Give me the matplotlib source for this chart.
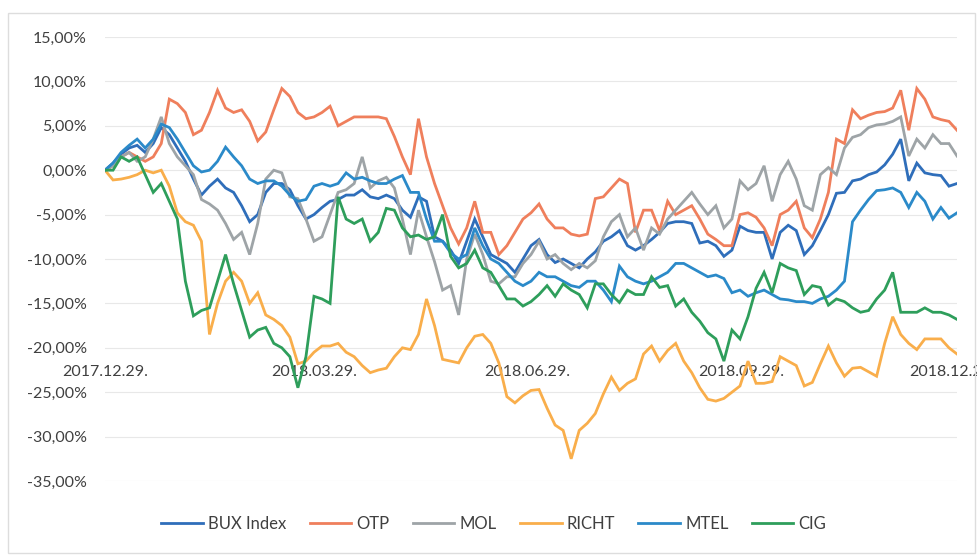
import matplotlib.pyplot as plt
import matplotlib.dates as mdates
from matplotlib.ticker import FuncFormatter
from matplotlib.patches import Rectangle
import pandas as pd

# daily returns vs. 2017.12.29, in percent
bux = [0, 0.8, 1.8, 2.5, 2.8, 2.0, 3.0, 4.8, 4.0, 2.5,
       1.0, -1.0, -2.8, -1.8, -1.0, -2.0, -2.5, -4.0, -5.8, -5.0,
       -2.5, -1.5, -1.5, -2.2, -4.0, -5.5, -5.0, -4.2, -3.5, -3.3,
       -2.8, -2.8, -2.2, -3.0, -3.2, -2.8, -3.2, -4.5, -5.3, -3.0,
       -3.5, -7.5, -8.0, -9.0, -10.5, -8.0, -5.5, -7.5, -9.5, -10.0,
       -10.5, -11.5, -10.0, -8.5, -7.8, -9.5, -10.4, -10.0, -10.5, -11.0,
       -10.0, -9.2, -8.0, -7.5, -6.8, -8.5, -9.0, -8.5, -7.8, -7.0,
       -6.0, -5.8, -5.8, -6.0, -8.2, -8.0, -8.5, -9.7, -9.0, -6.3,
       -6.8, -7.0, -7.0, -10.0, -7.0, -6.2, -6.8, -9.5, -8.5, -6.8,
       -5.0, -2.6, -2.5, -1.2, -1.0, -0.5, -0.2, 0.6, 1.8, 3.5,
       -1.2, 0.8, -0.3, -0.5, -0.6, -1.8, -1.5]
otp = [0, 0.5, 1.5, 2.0, 1.5, 1.0, 1.5, 3.0, 8.0, 7.5,
       6.5, 4.0, 4.5, 6.5, 9.0, 7.0, 6.5, 6.8, 5.5, 3.3,
       4.3, 6.8, 9.2, 8.3, 6.5, 5.8, 6.0, 6.5, 7.2, 5.0,
       5.5, 6.0, 6.0, 6.0, 6.0, 5.8, 3.8, 1.5, -0.5, 5.8,
       1.5, -1.5, -4.0, -6.5, -8.3, -6.5, -3.5, -7.0, -7.0, -9.5,
       -8.5, -7.0, -5.5, -4.8, -3.8, -5.5, -6.5, -6.5, -7.2, -7.4,
       -7.2, -3.2, -3.0, -2.0, -1.0, -1.5, -7.0, -4.5, -4.5, -6.8,
       -3.5, -5.0, -4.5, -4.0, -5.5, -7.2, -7.8, -8.5, -8.5, -5.0,
       -4.8, -5.3, -6.5, -8.5, -5.0, -4.5, -3.5, -6.5, -7.6, -5.5,
       -2.5, 3.5, 3.0, 6.8, 5.8, 6.2, 6.5, 6.6, 7.0, 9.0,
       4.5, 9.2, 8.0, 6.0, 5.7, 5.5, 4.5]
mol = [0, 0.5, 1.5, 2.0, 1.0, 1.5, 3.5, 6.0, 3.0, 1.5,
       0.5, -0.5, -3.3, -3.8, -4.5, -6.0, -7.8, -7.0, -9.5, -6.0,
       -1.0, 0.0, -0.3, -3.0, -3.2, -5.5, -8.0, -7.5, -5.0, -2.5,
       -2.2, -1.5, 1.5, -2.0, -1.2, -0.8, -2.0, -5.5, -9.5, -4.5,
       -7.5, -10.3, -13.5, -13.0, -16.3, -10.0, -7.2, -9.5, -12.5, -12.8,
       -12.0, -12.0, -10.5, -9.5, -8.0, -10.0, -9.5, -10.5, -11.2, -10.5,
       -11.0, -10.2, -7.5, -5.8, -5.0, -7.5, -6.5, -9.0, -6.5, -7.2,
       -5.5, -4.5, -3.5, -2.5, -3.8, -5.0, -4.0, -6.5, -5.5, -1.2,
       -2.2, -1.5, 0.5, -3.5, -0.5, 1.0, -1.0, -4.0, -4.5, -0.5,
       0.3, -0.5, 2.5, 3.7, 4.0, 4.8, 5.1, 5.2, 5.5, 6.0,
       1.6, 3.5, 2.5, 4.0, 3.0, 3.0, 1.6]
richt = [0, -1.1, -1.0, -0.8, -0.5, 0.0, -0.3, 0.0, -1.8, -4.8,
         -5.8, -6.2, -8.0, -18.5, -15.0, -12.5, -11.5, -12.5, -15.0, -13.8,
         -16.3, -16.8, -17.5, -18.8, -21.8, -21.5, -20.5, -19.8, -19.8, -19.5,
         -20.5, -21.0, -22.0, -22.8, -22.5, -22.3, -21.0, -20.0, -20.2, -18.5,
         -14.5, -17.5, -21.3, -21.5, -21.7, -20.0, -18.7, -18.5, -19.5, -21.7,
         -25.5, -26.2, -25.4, -24.8, -24.7, -26.8, -28.7, -29.3, -32.5, -29.3,
         -28.5, -27.4, -25.2, -23.3, -24.8, -24.0, -23.5, -20.7, -19.8, -21.5,
         -20.3, -19.5, -21.5, -22.8, -24.5, -25.8, -26.0, -25.7, -25.0, -24.3,
         -21.5, -24.0, -24.0, -23.8, -21.0, -21.5, -22.0, -24.3, -23.9, -21.8,
         -19.8, -21.7, -23.2, -22.3, -22.2, -22.7, -23.2, -19.5, -16.5, -18.5,
         -19.5, -20.2, -19.0, -19.0, -19.0, -20.0, -20.7]
mtel = [0, 0.8, 2.0, 2.8, 3.5, 2.5, 3.5, 5.2, 4.8, 3.5,
        2.0, 0.5, -0.2, 0.0, 1.0, 2.6, 1.5, 0.5, -1.0, -1.5,
        -1.2, -1.2, -1.8, -2.8, -3.5, -3.3, -1.8, -1.5, -1.8, -1.5,
        -0.3, -1.0, -0.8, -1.2, -1.5, -1.5, -1.0, -0.6, -2.5, -2.5,
        -5.5, -8.0, -8.0, -9.3, -10.0, -9.5, -6.5, -8.5, -10.0, -10.5,
        -11.5, -12.5, -13.0, -12.5, -11.5, -12.0, -12.0, -12.5, -13.0, -13.2,
        -12.5, -12.5, -13.5, -14.8, -10.8, -12.0, -12.5, -12.8, -12.5, -12.0,
        -11.5, -10.5, -10.5, -11.0, -11.5, -12.0, -11.8, -12.2, -13.8, -13.5,
        -14.2, -13.8, -13.5, -14.0, -14.5, -14.6, -14.8, -14.8, -15.0, -14.5,
        -14.2, -13.5, -12.5, -5.8, -4.5, -3.3, -2.3, -2.2, -2.0, -2.5,
        -4.2, -2.5, -3.5, -5.5, -4.2, -5.4, -4.8]
cig = [0, 0.0, 1.5, 1.0, 1.5, -0.5, -2.5, -1.5, -3.5, -5.5,
       -12.5, -16.4, -15.8, -15.5, -12.5, -9.5, -12.8, -15.8, -18.8, -18.0,
       -17.7, -19.5, -20.0, -21.0, -24.5, -21.0, -14.2, -14.5, -15.0, -3.0,
       -5.5, -6.0, -5.5, -8.0, -7.0, -4.3, -4.5, -6.5, -7.5, -7.3,
       -7.8, -7.5, -5.0, -9.7, -11.0, -10.5, -9.0, -11.0, -11.5, -13.0,
       -14.5, -14.5, -15.3, -14.8, -14.0, -13.0, -14.2, -12.8, -13.5, -14.0,
       -15.5, -12.8, -12.8, -14.0, -14.9, -13.5, -14.0, -14.0, -12.0, -13.2,
       -13.0, -15.3, -14.5, -16.0, -17.0, -18.3, -19.0, -21.5, -18.0, -19.0,
       -16.5, -13.3, -11.5, -13.8, -10.5, -11.0, -11.3, -14.0, -13.0, -13.2,
       -15.2, -14.5, -14.8, -15.5, -16.0, -15.8, -14.5, -13.5, -11.5, -16.0,
       -16.0, -16.0, -15.5, -16.0, -16.0, -16.3, -16.8]

names = ['BUX Index', 'OTP', 'MOL', 'RICHT', 'MTEL', 'CIG']
colors = ['#2F6EBA', '#EF7F5C', '#9EA4A7', '#F9AE4B', '#2B8AC9', '#2E9E5B']
tick_dates = ['2017-12-29', '2018-03-29', '2018-06-29', '2018-09-29', '2018-12-29']

dates = pd.date_range('2017-12-29', '2018-12-31', periods=len(bux))

plt.rcParams['font.family'] = ['Lato', 'DejaVu Sans']
fig = plt.figure(figsize=(9.78, 5.56), dpi=100)
ax = fig.add_axes([105 / 978, 1 - 481 / 556, (957 - 105) / 978, (481 - 37) / 556])

for vals, name, c in zip([bux, otp, mol, richt, mtel, cig], names, colors):
    ax.plot(dates, vals, color=c, lw=2.0, label=name, solid_joinstyle='miter')

ax.set_xlim(dates[0], dates[-1])
ax.set_ylim(-35, 15)
ax.set_yticks(range(-35, 16, 5))
ax.yaxis.set_major_formatter(FuncFormatter(lambda v, p: f'{v:.2f}%'.replace('.', ',')))
ax.grid(axis='y', color='#E8E8E8', lw=0.8)
ax.set_axisbelow(True)

ax.set_xticks(pd.to_datetime(tick_dates))
ax.xaxis.set_major_formatter(mdates.DateFormatter('%Y.%m.%d.'))
ax.spines['bottom'].set_position(('data', -21.6))
for s in ax.spines.values():
    s.set_visible(False)
ax.tick_params(axis='x', length=0, pad=2, labelsize=11.5, labelcolor='#404040')
ax.tick_params(axis='y', length=0, pad=13, labelsize=11.5, labelcolor='#404040')
for lab in ax.get_xticklabels():
    lab.set_clip_on(False)

fig.legend(loc='center', bbox_to_anchor=(0.505, 0.058), ncol=6, frameon=False,
           fontsize=12, handlelength=2.5, handletextpad=0.3, columnspacing=1.4,
           labelcolor='#404040')

fig.patches.append(Rectangle((8 / 978, 1 - 553 / 556), 967 / 978, 540 / 556,
                             transform=fig.transFigure, fill=False,
                             edgecolor='#DDDDDD', lw=1))

plt.savefig('out.png', dpi=100)
